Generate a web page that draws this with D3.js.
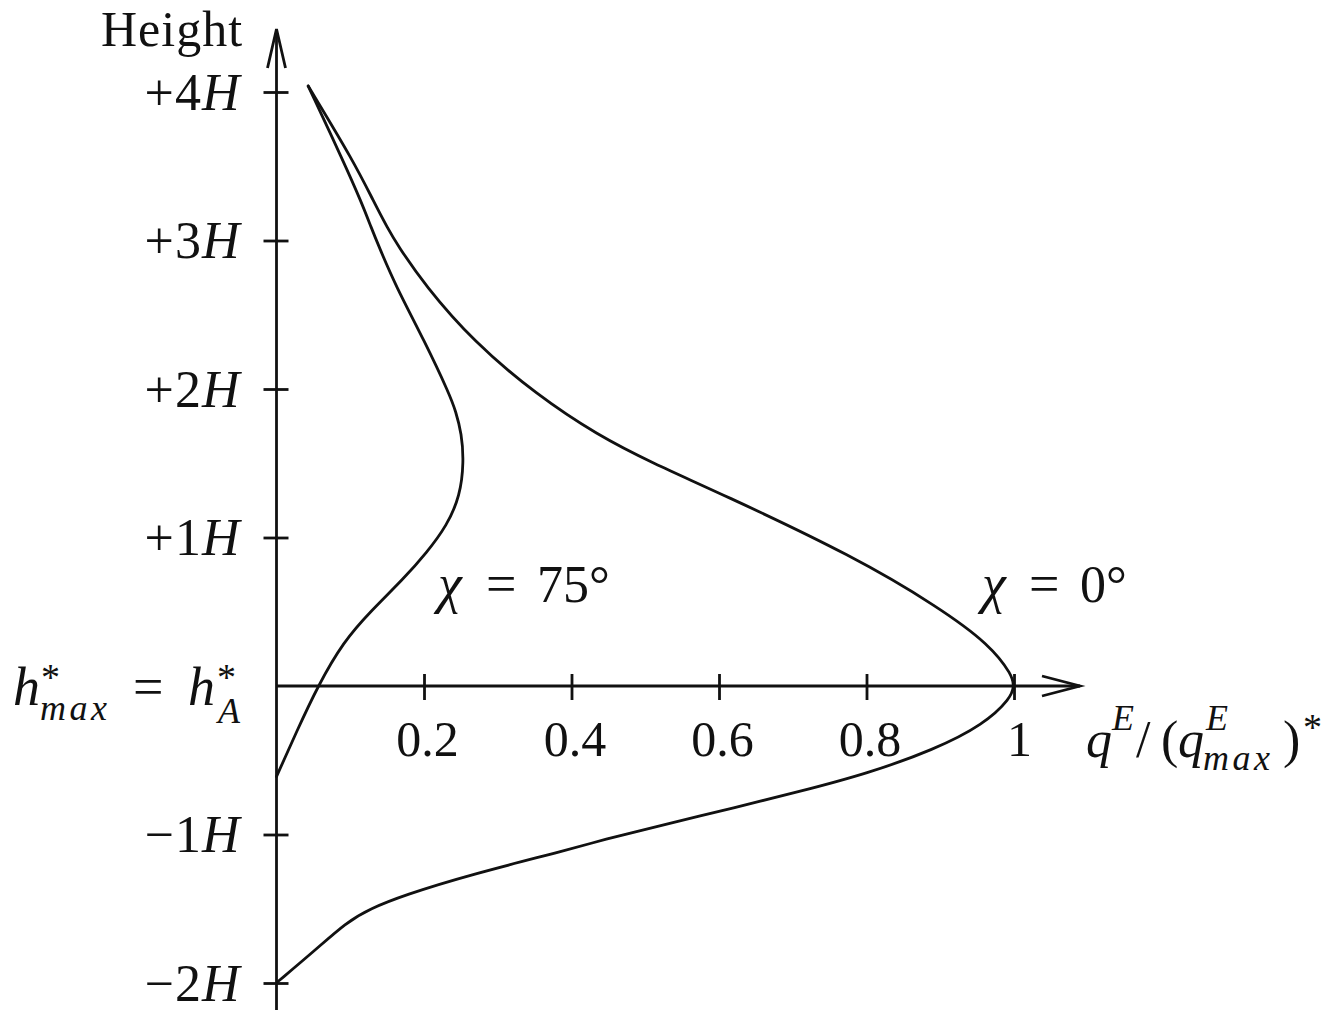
<!DOCTYPE html>
<html>
<head>
<meta charset="utf-8">
<script src="https://cdn.jsdelivr.net/npm/d3@7"></script>
<style>
  body { margin: 0; background: #fff; }
  svg { display: block; font-family: "Liberation Serif", "DejaVu Serif", serif; }
</style>
</head>
<body>
<div id="chart"></div>
<script>
// heights in units of H, q values
const chi0Height = [4.04, 3.53, 3.26, 3.08, 2.97, 2.70, 2.32, 1.96, 1.69, 1.50, 1.30, 0.87, 0.53, 0.28, 0.07, 0.00,
    -0.08, -0.26, -0.43, -0.59, -0.71, -0.82, -0.93, -1.04, -1.10, -1.27, -1.41, -1.50, -1.59, -1.79, -1.99]
const chi0Q = [0.043, 0.105, 0.132, 0.151, 0.164, 0.201, 0.267, 0.353, 0.435, 0.510, 0.601, 0.784, 0.898, 0.967, 0.998, 1.000,
    0.996, 0.959, 0.891, 0.801, 0.710, 0.620, 0.529, 0.439, 0.398, 0.263, 0.172, 0.127, 0.095, 0.050, 0.002]

const chi75Height = [4.04, 3.53, 3.26, 3.08, 2.97, 2.70, 2.32, 1.96, 1.85, 1.70, 1.51, 1.28, 1.08, 0.90, 0.72,
    0.50, 0.30, 0.00, -0.31, -0.61]
const chi75Q = [0.043, 0.091, 0.115, 0.129, 0.138, 0.161, 0.201, 0.235, 0.243, 0.251, 0.254, 0.249, 0.231, 0.204, 0.172,
    0.127, 0.091, 0.056, 0.027, 0.000]

const xTicks = [0.2, 0.4, 0.6, 0.8, 1]
const xTickLabels = ['0.2', '0.4', '0.6', '0.8', '1']
const yTicks = [4, 3, 2, 1, -1, -2]
const yTickLabels = ['+4', '+3', '+2', '+1', '\u22121', '\u22122']

const width = 1329, height = 1010
const svg = d3.select('#chart').append('svg')
    .attr('width', width)
    .attr('height', height)

const x = d3.scaleLinear().domain([0, 1]).range([276.5, 1014])
const y = d3.scaleLinear().domain([-2, 4]).range([983, 92])

const ink = '#111'
const sw = 2.8
const serif = '"Liberation Serif", serif'

// axes lines with open arrowheads
const axes = svg.append('g').attr('stroke', ink).attr('stroke-width', sw).attr('fill', 'none')
axes.append('line').attr('x1', x(0)).attr('x2', x(0)).attr('y1', height).attr('y2', 29)
axes.append('path').attr('d', `M${x(0) - 9},68 L${x(0)},29 L${x(0) + 9},68`)
axes.append('line').attr('x1', x(0)).attr('x2', 1080).attr('y1', y(0)).attr('y2', y(0))
axes.append('path').attr('d', `M1042,${y(0) - 10} L1080,${y(0)} L1042,${y(0) + 10}`)

// x ticks
const xAxis = svg.append('g')
    .attr('transform', `translate(0,${y(0)})`)
    .call(d3.axisBottom(x).tickValues(xTicks).tickSize(0).tickFormat((d, i) => xTickLabels[i]))
xAxis.select('.domain').remove()
xAxis.selectAll('.tick line')
    .attr('y1', -12).attr('y2', 14)
    .attr('stroke', ink).attr('stroke-width', sw)
xAxis.selectAll('.tick text')
    .attr('y', 70).attr('dy', null)
    .attr('dx', (d) => d === 1 ? 5 : 3)
    .attr('font-size', 50)
    .attr('font-family', serif)
    .attr('fill', ink)

// y ticks
const yAxis = svg.append('g')
    .attr('transform', `translate(${x(0)},0)`)
    .call(d3.axisLeft(y).tickValues(yTicks).tickSize(0).tickFormat(''))
yAxis.select('.domain').remove()
yAxis.selectAll('.tick line')
    .attr('x1', -13).attr('x2', 12)
    .attr('stroke', ink).attr('stroke-width', sw)
yAxis.selectAll('.tick text')
    .attr('x', -36).attr('dy', 17)
    .attr('text-anchor', 'end')
    .attr('font-size', 52)
    .attr('font-family', serif)
    .attr('letter-spacing', 1)
    .attr('fill', ink)
    .each(function (d, i) {
        const t = d3.select(this)
        t.append('tspan').text(yTickLabels[i])
        t.append('tspan').attr('font-style', 'italic').text('H')
    })

// curves
const line = d3.line()
    .x(d => x(d[0]))
    .y(d => y(d[1]))
    .curve(d3.curveBasis)

const curves = [d3.zip(chi0Q, chi0Height), d3.zip(chi75Q, chi75Height)]
svg.selectAll('.curve')
    .data(curves)
    .join('path')
    .attr('class', 'curve')
    .attr('fill', 'none').attr('stroke', ink).attr('stroke-width', sw)
    .attr('stroke-linejoin', 'round').attr('stroke-linecap', 'round')
    .attr('d', line)

// text built from absolutely placed pieces: [x, y, string, size, italic, letterSpacing]
const label = (parts) => {
    const t = svg.append('text').attr('fill', ink).attr('font-family', serif)
    parts.forEach(([px, py, s, size, italic, ls]) => {
        t.append('tspan')
            .attr('x', px).attr('y', py)
            .attr('font-size', size)
            .attr('font-style', italic ? 'italic' : 'normal')
            .attr('letter-spacing', ls || 0)
            .text(s)
    })
    return t
}

label([[101, 46, 'Height', 50, false, 1]])

label([[438, 602, '\u03c7', 54, true], [486, 602, '=', 54], [537, 602, '75\u00b0', 52]])
label([[982, 602, '\u03c7', 54, true], [1029, 602, '=', 54], [1080, 602, '0\u00b0', 52]])

// q^E/(q^E_max)^*
label([
    [1086, 757, 'q', 52, true],
    [1112, 730, 'E', 36, true],
    [1136, 757, '/', 52],
    [1161, 757, '(', 52],
    [1178, 757, 'q', 52, true],
    [1206, 730, 'E', 36, true],
    [1203, 770, 'max', 36, true, 3.5],
    [1283, 757, ')', 52],
    [1303, 740, '*', 38]
])

// h*_max = h*_A
label([
    [13, 705, 'h', 54, true],
    [41, 690, '*', 38],
    [40, 720, 'max', 36, true, 3.5],
    [133, 705, '=', 54],
    [188, 705, 'h', 54, true],
    [217, 690, '*', 38],
    [218, 723, 'A', 36, true]
])
</script>
</body>
</html>
